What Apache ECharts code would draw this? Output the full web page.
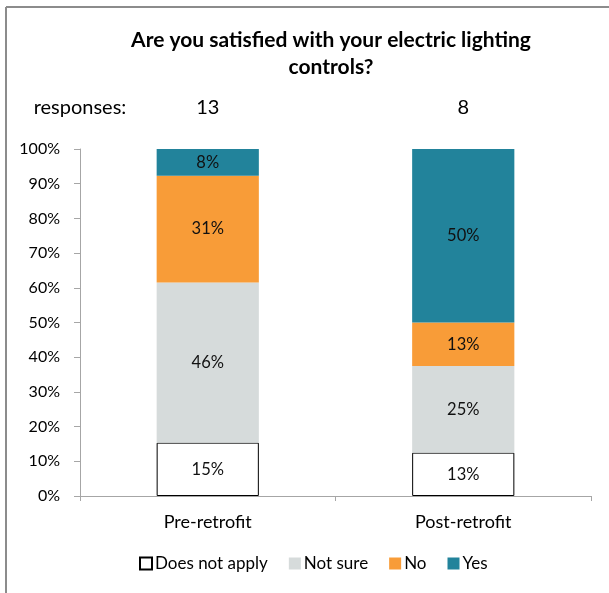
<!DOCTYPE html>
<html>
<head>
<meta charset="utf-8">
<script src="https://cdn.jsdelivr.net/npm/echarts@6/dist/echarts.min.js"></script>
<style>html,body{margin:0;padding:0;background:#fff}#c{width:609px;height:593px}</style>
</head>
<body>
<div id="c"></div>
<script>
var categories = ['Pre-retrofit', 'Post-retrofit'];
var responses = [13, 8];
var doesNotApply = [15.38, 12.5];
var notSure = [46.15, 25];
var no = [30.77, 12.5];
var yes = [7.69, 50];
var yTicks = [0, 10, 20, 30, 40, 50, 60, 70, 80, 90, 100];

var FONT = 'Lato';
var chart = echarts.init(document.getElementById('c'), null, {renderer: 'canvas'});
var lbl = {show: true, position: 'inside', color: '#111', fontFamily: FONT, fontSize: 16.5,
  formatter: function (p) { return Math.round(p.value) + '%'; }};
function mk(name, data, color, border) {
  return {
    name: name, type: 'bar', stack: 'a', data: data, barWidth: '40%',
    itemStyle: {color: color, borderColor: border ? '#000' : color, borderWidth: border ? 1 : 0},
    label: lbl
  };
}
chart.setOption({
  animation: false,
  title: {
    text: 'Are you satisfied with your electric lighting\ncontrols?',
    left: 326, top: 22, textAlign: 'center',
    textStyle: {fontFamily: FONT, fontWeight: 'bold', fontSize: 21, color: '#000', lineHeight: 27}
  },
  graphic: [
    {type: 'line', shape: {x1: 6, y1: 7, x2: 609, y2: 7}, style: {stroke: '#8c8c8c', lineWidth: 2}},
    {type: 'line', shape: {x1: 6, y1: 7, x2: 6, y2: 593}, style: {stroke: '#8c8c8c', lineWidth: 2}}
  ],
  legend: {
    bottom: 16, left: 134, itemWidth: 12, itemHeight: 12, itemGap: 21,
    icon: 'rect',
    textStyle: {fontFamily: FONT, fontSize: 17, color: '#000', padding: [0, 0, 0, -2]},
    data: ['Does not apply', 'Not sure', 'No', 'Yes']
  },
  grid: {left: 80, right: 18, top: 149, bottom: 97},
  xAxis: [{
    type: 'category', data: categories,
    axisLine: {lineStyle: {color: '#a6a6a6'}},
    axisTick: {show: true, alignWithLabel: false, length: 5, lineStyle: {color: '#a6a6a6'}},
    axisLabel: {fontFamily: FONT, fontSize: 18, color: '#000', margin: 17}
  }, {
    type: 'category', data: responses.map(String), position: 'top',
    axisLine: {show: false}, axisTick: {show: false},
    axisLabel: {fontFamily: FONT, fontSize: 20, color: '#000', margin: 31}
  }],
  yAxis: {
    type: 'value', min: 0, max: 100, interval: 10,
    name: 'responses:', nameLocation: 'end', nameGap: 31,
    nameTextStyle: {fontFamily: FONT, fontSize: 20, color: '#000', align: 'center'},
    axisLine: {show: true, lineStyle: {color: '#a6a6a6'}},
    axisTick: {show: true, length: 6, lineStyle: {color: '#a6a6a6'}},
    splitLine: {show: false},
    axisLabel: {fontFamily: FONT, fontSize: 16, color: '#000', margin: 20,
      formatter: function (v) { return yTicks.indexOf(v) >= 0 ? v + '%' : ''; }}
  },
  series: [
    mk('Does not apply', doesNotApply, '#ffffff', true),
    mk('Not sure', notSure, '#d6dbdb', false),
    mk('No', no, '#f89c38', false),
    mk('Yes', yes, '#22839b', false)
  ]
});
</script>
</body>
</html>
